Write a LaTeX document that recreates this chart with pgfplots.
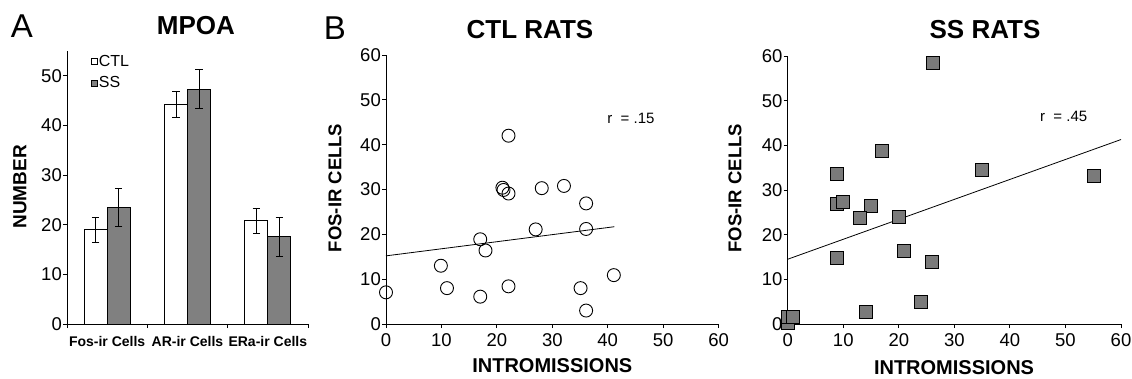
\documentclass[border=0pt]{standalone}
\usepackage{pgfplots}
\pgfplotsset{compat=1.18}
\usepackage{pgfplotstable}
\usepackage{fontspec}
\setmainfont{Liberation Sans}
\definecolor{barg}{RGB}{128,128,128}
\definecolor{sqg}{RGB}{122,122,122}

\pgfplotstableread{
x y e
0 19.0 2.5
1 44.2 2.6
2 20.8 2.5
}\ctltab
\pgfplotstableread{
x y e
0 23.5 3.8
1 47.3 3.9
2 17.6 3.9
}\sstab

\newcommand{\tf}{\fontsize{18.5}{20}\selectfont}

\pgfplotsset{
  common/.style={
    scale only axis,
    axis lines*=left,
    axis line style={line width=0.9pt, black},
    tick align=outside,
    major tick length=4pt,
    tick style={line width=0.9pt, black},
    font=\tf,
    /pgf/number format/assume math mode=true,
    every tick label/.append style={font=\tf, inner sep=1pt},
    clip=false,
  },
  scat/.style={
    common,
    xmin=0, xmax=60, ymin=0, ymax=60,
    xtick={0,10,...,60}, ytick={0,10,...,60},
    xticklabel style={yshift=-4pt},
    xlabel={INTROMISSIONS},
    ylabel={FOS-IR CELLS},
    xlabel style={font=\fontsize{20}{22}\selectfont\bfseries, anchor=center},
    ylabel style={font=\fontsize{18.5}{20}\selectfont\bfseries, anchor=center},
    title style={font=\fontsize{26}{28}\selectfont\bfseries, anchor=center},
  },
}

\begin{document}
\begin{tikzpicture}
\useasboundingbox (0pt,0pt) rectangle (1132pt,378pt);

% Panel A
\begin{axis}[common,
  at={(67pt,54pt)}, anchor=south west,
  width=241pt, height=273pt,
  xmin=-0.5, xmax=2.5, ymin=0, ymax=55,
  ytick={0,10,...,50},
  xtick={-0.5,0.5,1.5,2.5}, xticklabels={},
  extra x ticks={0,1,2},
  extra x tick labels={Fos-ir Cells, AR-ir Cells, ERa-ir Cells},
  extra x tick style={major tick length=0pt, tick label style={font=\fontsize{14}{16}\selectfont\bfseries, yshift=-11pt}},
  ybar, bar width=23pt,
  ylabel={NUMBER},
  ylabel style={at={(axis description cs:-0.195,0.502)}, anchor=center, font=\fontsize{19}{20}\selectfont\bfseries},
  title={MPOA},
  title style={at={(axis description cs:0.535,1.07)}, anchor=center, font=\fontsize{26}{28}\selectfont\bfseries},
  legend style={draw=none, fill=none, at={(axis description cs:0.1,0.99)}, anchor=north west,
    font=\fontsize{16}{18}\selectfont, row sep=7pt, inner sep=0pt,
    nodes={inner sep=1pt}},
  legend cell align=left,
  legend image code/.code={\draw[#1, line width=0.6pt] (0pt,-3pt) rectangle (6pt,3pt);},
]
\addplot[bar shift=-11.5pt, draw=black, line width=1pt, fill=white,
  error bars/.cd, y dir=both, y explicit,
  error bar style={line width=1pt, black},
  error mark options={rotate=90, mark size=3.8pt, line width=1pt, black}]
  table[x=x, y=y, y error=e] {\ctltab};
\addlegendentry{CTL}
\addplot[bar shift=11.5pt, draw=black, line width=1pt, fill=barg,
  error bars/.cd, y dir=both, y explicit,
  error bar style={line width=1pt, black},
  error mark options={rotate=90, mark size=3.8pt, line width=1pt, black}]
  table[x=x, y=y, y error=e] {\sstab};
\addlegendentry{SS}
\end{axis}

% Panel B - CTL
\begin{axis}[scat,
  at={(386pt,54pt)}, anchor=south west,
  width=332.6pt, height=269pt,
  xlabel style={at={(axis description cs:0.5,-0.155)}},
  ylabel style={at={(axis description cs:-0.153,0.506)}},
  title={CTL RATS},
  title style={at={(axis description cs:0.433,1.071)}},
]
\addplot[black, line width=0.8pt] coordinates {(0,15.2) (41.2,21.7)};
\addplot[only marks, mark=o, mark size=6.5pt, mark options={line width=0.9pt, black}]
 coordinates {
 (0,7.06) (9.9,13.0) (11.0,8.0) (17.0,6.1) (17.0,18.9) (17.95,16.4)
 (21.0,30.4) (21.2,29.9) (22.1,29.1) (22.1,42.0) (22.1,8.4)
 (27.0,21.1) (28.1,30.3) (32.1,30.8) (36.1,26.9) (36.1,21.2)
 (35.1,8.0) (36.1,3.0) (41.1,10.9)
 };
\node[anchor=west, font=\fontsize{15}{17}\selectfont] at (axis cs:39.3,45.9) {r\ \ = .15};
\end{axis}

% Panel B - SS
\begin{axis}[scat,
  at={(787.7pt,54pt)}, anchor=south west,
  width=333.3pt, height=268pt,
  xlabel style={at={(axis description cs:0.499,-0.162)}},
  ylabel style={at={(axis description cs:-0.158,0.507)}},
  title={SS RATS},
  title style={at={(axis description cs:0.592,1.077)}},
]
\addplot[black, line width=0.8pt] coordinates {(0,14.5) (60,41.3)};
\addplot[only marks, mark=square*, mark size=6.5pt, mark options={line width=0.9pt, draw=black, fill=sqg}]
 coordinates {
 (0,0.3) (0,1.6) (1.0,1.5)
 (26.1,58.5) (17.0,38.7) (8.9,33.6) (35.0,34.6) (55.1,33.1)
 (8.9,26.9) (10.0,27.4) (15.0,26.4) (13.0,23.7) (20.0,23.9)
 (8.9,14.7) (21.0,16.3) (26.0,13.8) (24.0,5.0) (14.0,2.6)
 };
\node[anchor=west, font=\fontsize{15}{17}\selectfont] at (axis cs:44.8,46.5) {r\ \ = .45};
\end{axis}

\node[font=\fontsize{33}{36}\selectfont] at (22pt,352pt) {A};
\node[font=\fontsize{33}{36}\selectfont] at (335pt,350pt) {B};
\end{tikzpicture}
\end{document}
